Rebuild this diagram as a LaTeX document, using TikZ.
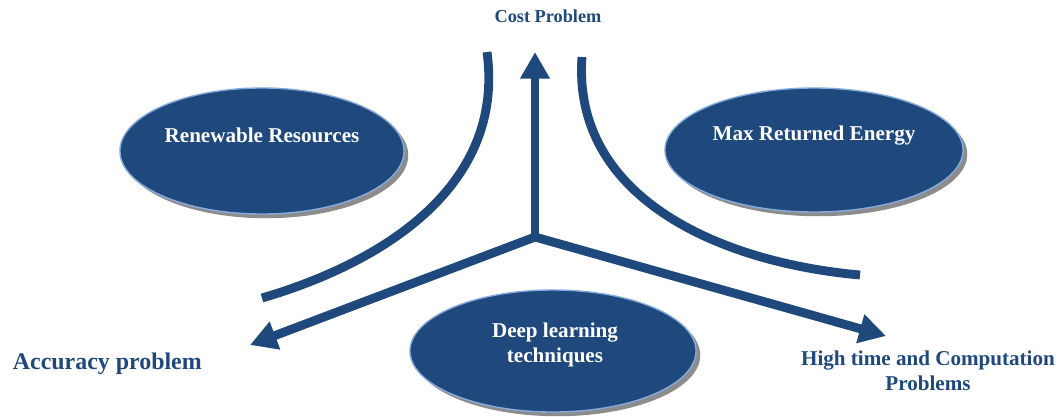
\documentclass[tikz,border=0pt]{standalone}
\usepackage{fontspec}
\setmainfont{Liberation Serif}
\usetikzlibrary{shapes.geometric,shadows,arrows.meta}
\definecolor{azul}{RGB}{31,72,124}
\definecolor{borda}{RGB}{135,170,220}
\def\grossura{6.3pt}

\begin{document}
\begin{tikzpicture}[x=0.025cm,y=-0.025cm,
    bolha/.style={ellipse, draw=borda, line width=1pt, fill=azul, inner sep=0pt,
        drop shadow={shadow xshift=3pt, shadow yshift=-3pt, fill=black!45, opacity=1}},
    texbolha/.style={text=white, font=\fontsize{15}{18}\selectfont\bfseries, align=center},
    rotulo/.style={text=azul, font=\fontsize{15}{18}\selectfont\bfseries, align=center},
    seta/.style={azul, line width=\grossura, -{Triangle[length=19pt,width=20pt]}},
    curva/.style={azul, line width=\grossura}]
\useasboundingbox (0,0) rectangle (1060,416);

%elipses
    \node[bolha, minimum width=7.1cm, minimum height=3.15cm] (renovavel) at (262,151) {};
    \node[texbolha] (trenovavel) at (262,135) {Renewable Resources};

    \node[bolha, minimum width=7.45cm, minimum height=3.1cm] (energia) at (814,150) {};
    \node[texbolha] (tenergia) at (814,136) {Max Returned Energy};

    \node[bolha, minimum width=7.15cm, minimum height=3.05cm] (deep) at (553,351) {};
    \node[texbolha] (tdeep) at (555,345) {Deep learning\\techniques};

%rotulos
    \node[rotulo, font=\fontsize{13}{15}\selectfont\bfseries] (custo) at (548,16) {Cost Problem};
    \node[rotulo, font=\fontsize{17}{20}\selectfont\bfseries, anchor=west] (precisao) at (8,364) {Accuracy problem};
    \node[rotulo] (tempo) at (928,371) {High time and Computation\\Problems};

%setas
    \coordinate (centro) at (535,237);
    \coordinate (cima) at (535,52);
    \coordinate (esq) at (250,345);
    \coordinate (dir) at (886,336);
    \draw[seta] (centro) -- (cima);
    \draw[seta] (centro) -- (esq);
    \draw[seta] (centro) -- (dir);

%curvas
    \coordinate (ce1) at (487,52);
    \coordinate (ce2) at (262,298);
    \coordinate (cd1) at (582,57);
    \coordinate (cd2) at (860,275);
    \draw[curva] (ce1) .. controls (505,185) and (385,262) .. (ce2);
    \draw[curva] (cd1) .. controls (572,195) and (715,262) .. (cd2);

\end{tikzpicture}
\end{document}
